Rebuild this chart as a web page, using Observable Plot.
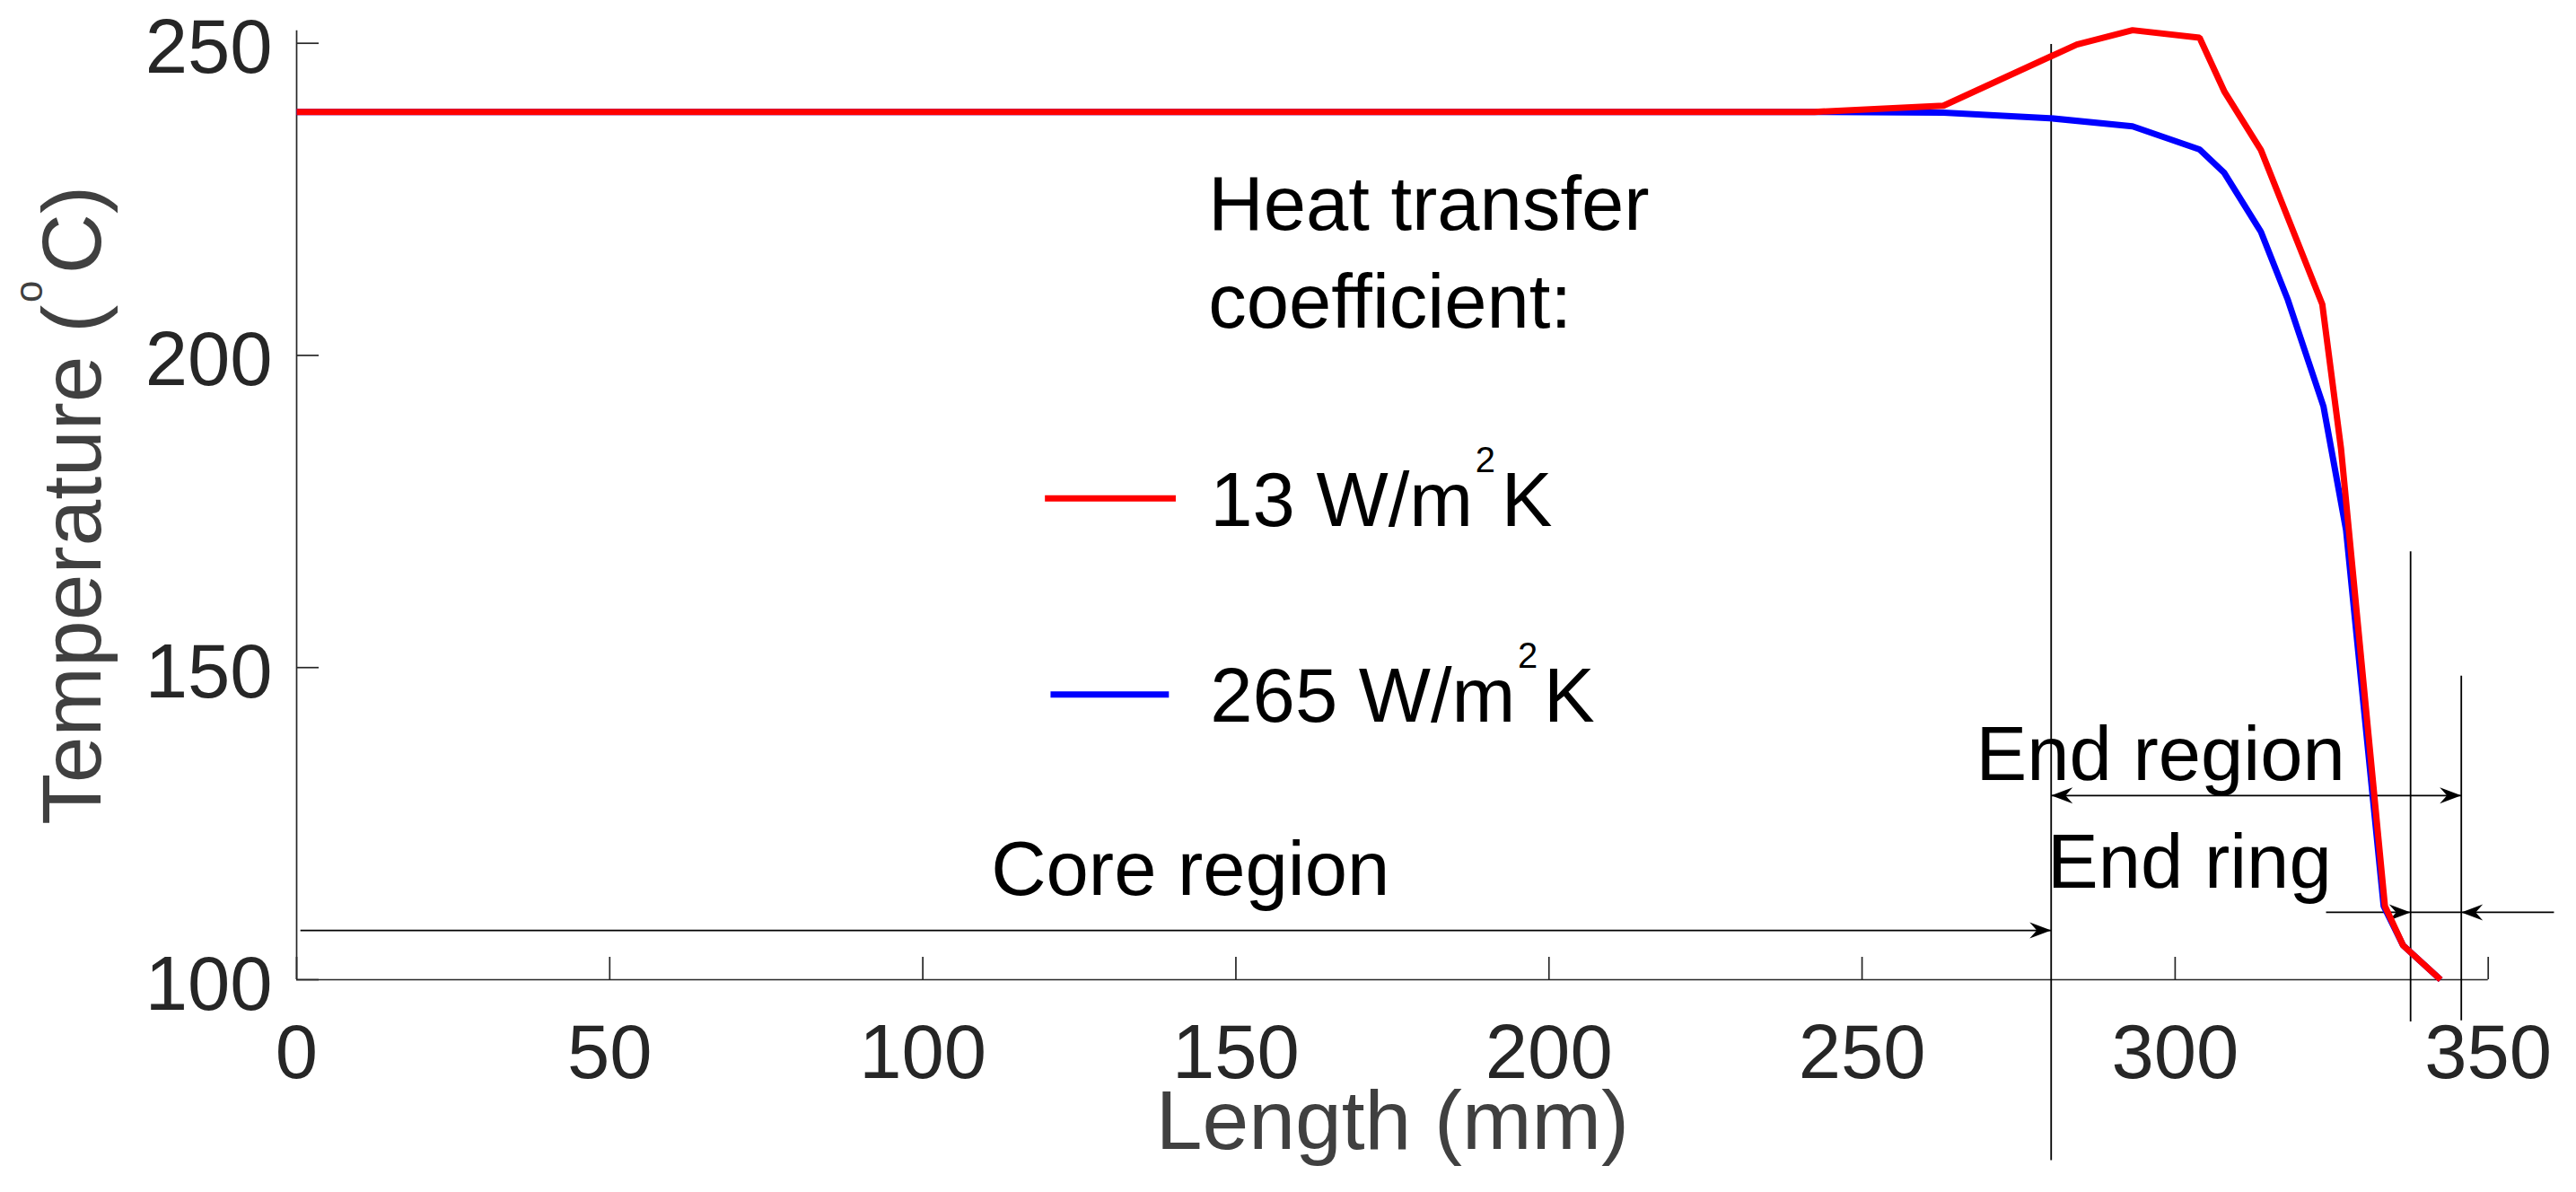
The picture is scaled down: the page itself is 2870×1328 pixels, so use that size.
<!DOCTYPE html>
<html>
<head>
<meta charset="utf-8">
<script src="https://cdn.jsdelivr.net/npm/d3@7"></script>
<script src="https://cdn.jsdelivr.net/npm/@observablehq/plot@0.6"></script>
<style>
  html, body { margin: 0; padding: 0; background: #fff; overflow: hidden; }
  #chart svg { display: block; }
</style>
</head>
<body>
<div id="chart"></div>
<script>
// ---- Data ----
const xTicks = [0, 50, 100, 150, 200, 250, 300, 350];
const yTicks = [100, 150, 200, 250];

const seriesNames = ["13 W/m^{2}K", "265 W/m^{2}K"];
const seriesColors = ["#ff0000", "#0000ff"];

// 13 W/m2K (red)
const length13 = [0, 242.4, 263.0, 284.3, 293.2, 303.9, 307.9, 313.7, 323.5, 326.5, 333.5, 336.4, 342.4];
const temp13   = [239.0, 239.0, 240.0, 249.8, 252.1, 250.9, 242.2, 232.9, 208.2, 185.0, 111.8, 105.5, 100.0];

// 265 W/m2K (blue)
const length265 = [0, 242.4, 263.0, 280.0, 293.2, 303.9, 307.8, 313.7, 318.0, 323.7, 327.3, 333.3, 336.4, 342.4];
const temp265   = [239.0, 239.0, 238.9, 238.0, 236.7, 233.0, 229.3, 219.8, 208.9, 191.8, 172.0, 111.8, 105.5, 100.0];

// Annotations (data coordinates: mm, degC)
const regionLines = [
  {x: 280.2, y1: 249.9, y2: 71.1},
  {x: 337.6, y1: 168.6, y2: 93.3},
  {x: 345.7, y1: 148.7, y2: 93.5}
];
const arrowShafts = [
  {x1: 0.6,   x2: 280.2, y: 107.9},
  {x1: 280.2, x2: 345.7, y: 129.5},
  {x1: 324.1, x2: 337.6, y: 110.8},
  {x1: 337.6, x2: 345.7, y: 110.8},
  {x1: 345.7, x2: 360.5, y: 110.8}
];
const headsRight = [{x: 280.2, y: 107.9}, {x: 345.7, y: 129.5}, {x: 337.6, y: 110.8}];
const headsLeft  = [{x: 280.2, y: 129.5}, {x: 345.7, y: 110.8}];
const regionLabels = [
  {text: "Core region", x: 110.9, y: 113.6},
  {text: "End region",  x: 268.2, y: 132.0},
  {text: "End ring",    x: 279.6, y: 114.8}
];
const legendTitle = [
  {text: "Heat transfer", x: 145.6, y: 220.1},
  {text: "coefficient:",  x: 145.6, y: 204.5}
];
const legendLabelY = [172.7, 141.4];
const legendLabelX = 145.9;
const legendSwatches = [
  {x1: 119.5, x2: 140.4, y: 177.1},
  {x1: 120.4, x2: 139.3, y: 145.7}
];

// ---- Build tables ----
const red = length13.map((x, i) => ({x, y: temp13[i]}));
const blue = length265.map((x, i) => ({x, y: temp265[i]}));
const legendRows = seriesNames.map((name, i) => ({
  text: name, color: seriesColors[i], y: legendLabelY[i],
  x1: legendSwatches[i].x1, x2: legendSwatches[i].x2, ys: legendSwatches[i].y
}));

// custom filled arrowheads (tip at the data point)
const arrowRight = {draw(ctx) { ctx.moveTo(0, 0); ctx.lineTo(-24, -9); ctx.lineTo(-16, 0); ctx.lineTo(-24, 9); ctx.closePath(); }};
const arrowLeft  = {draw(ctx) { ctx.moveTo(0, 0); ctx.lineTo(24, -9); ctx.lineTo(16, 0); ctx.lineTo(24, 9); ctx.closePath(); }};

const axisColor = "#262626";
const labelColor = "#404040";

const W = 2870, H = 1328, mL = 330, mR = 98.3, mT = 33.8, mB = 237;
const frameW = W - mL - mR, frameH = H - mT - mB;

const chart = Plot.plot({
  width: W, height: H,
  marginLeft: mL, marginRight: mR, marginTop: mT, marginBottom: mB,
  x: {domain: [0, 350]},
  y: {domain: [100, 252]},
  style: {fontFamily: "'Liberation Sans', Arial, Helvetica, sans-serif", background: "white", overflow: "visible"},
  marks: [
    // axes lines
    Plot.ruleX([0], {y1: 100, y2: 252, stroke: axisColor, strokeWidth: 1.7}),
    Plot.ruleY([100], {x1: 0, x2: 350, stroke: axisColor, strokeWidth: 1.7}),
    // inward ticks
    Plot.tickX(xTicks, {x: d => d, insetTop: frameH - 25, stroke: axisColor, strokeWidth: 1.7}),
    Plot.tickY(yTicks, {y: d => d, insetRight: frameW - 25, stroke: axisColor, strokeWidth: 1.7}),
    // tick labels
    Plot.axisX({ticks: xTicks, tickSize: 0, tickPadding: 49.6, fontSize: 85, fill: axisColor, label: null, tickFormat: d => String(d)}),
    Plot.axisY({ticks: yTicks, tickSize: 0, tickPadding: 27, fontSize: 85, fill: axisColor, label: null, dy: 6, tickFormat: d => String(d)}),
    // axis titles
    Plot.text(["Length (mm)"], {frameAnchor: "bottom", dy: 188, textAnchor: "middle", lineAnchor: "bottom", fontSize: 93, fill: labelColor}),
    Plot.text(["Temperature (^{o}C)"], {frameAnchor: "left", rotate: -90, dx: -218.3, textAnchor: "middle", lineAnchor: "bottom", fontSize: 93, fill: labelColor}),
    // region annotation lines
    Plot.link(regionLines, {x1: "x", x2: "x", y1: "y1", y2: "y2", stroke: "black", strokeWidth: 1.8}),
    Plot.link(arrowShafts, {x1: "x1", x2: "x2", y1: "y", y2: "y", stroke: "black", strokeWidth: 1.8}),
    Plot.dot(headsRight, {x: "x", y: "y", symbol: arrowRight, r: 5, fill: "black", stroke: "none"}),
    Plot.dot(headsLeft, {x: "x", y: "y", symbol: arrowLeft, r: 5, fill: "black", stroke: "none"}),
    // series
    Plot.line(blue, {x: "x", y: "y", stroke: seriesColors[1], strokeWidth: 7, strokeLinejoin: "miter", strokeLinecap: "butt"}),
    Plot.line(red, {x: "x", y: "y", stroke: seriesColors[0], strokeWidth: 7, strokeLinejoin: "miter", strokeLinecap: "butt"}),
    // annotation text
    Plot.text(regionLabels, {x: "x", y: "y", text: "text", textAnchor: "start", lineAnchor: "bottom", fontSize: 85, fill: "black"}),
    Plot.text(legendTitle, {x: "x", y: "y", text: "text", textAnchor: "start", lineAnchor: "bottom", fontSize: 85, fill: "black"}),
    Plot.link(legendRows, {x1: "x1", x2: "x2", y1: "ys", y2: "ys", stroke: "color", strokeWidth: 7, strokeLinecap: "butt"}),
    Plot.text(legendRows, {x: legendLabelX, y: "y", text: "text", textAnchor: "start", lineAnchor: "bottom", fontSize: 85, fill: "black"})
  ]
});

document.getElementById("chart").appendChild(chart);

// Rich text: turn "^{...}" into superscript tspans
chart.querySelectorAll("text").forEach(t => {
  const s = t.textContent;
  if (!s.includes("^{")) return;
  const fs = parseFloat(getComputedStyle(t).fontSize) || 85;
  const parts = s.split(/(\^\{[^}]*\})/).filter(p => p.length);
  t.textContent = "";
  const ns = "http://www.w3.org/2000/svg";
  let afterSup = false;
  parts.forEach(p => {
    const ts = document.createElementNS(ns, "tspan");
    if (p.startsWith("^{")) {
      ts.textContent = p.slice(2, -1);
      ts.setAttribute("font-size", (0.47 * fs).toFixed(1));
      ts.setAttribute("dy", (-0.70 * fs).toFixed(1));
      ts.setAttribute("dx", (0.03 * fs).toFixed(1));
      afterSup = true;
    } else {
      ts.textContent = p;
      if (afterSup) {
        ts.setAttribute("dy", (0.70 * fs).toFixed(1));
        ts.setAttribute("dx", (0.08 * fs).toFixed(1));
      }
      afterSup = false;
    }
    t.appendChild(ts);
  });
});
</script>
</body>
</html>
